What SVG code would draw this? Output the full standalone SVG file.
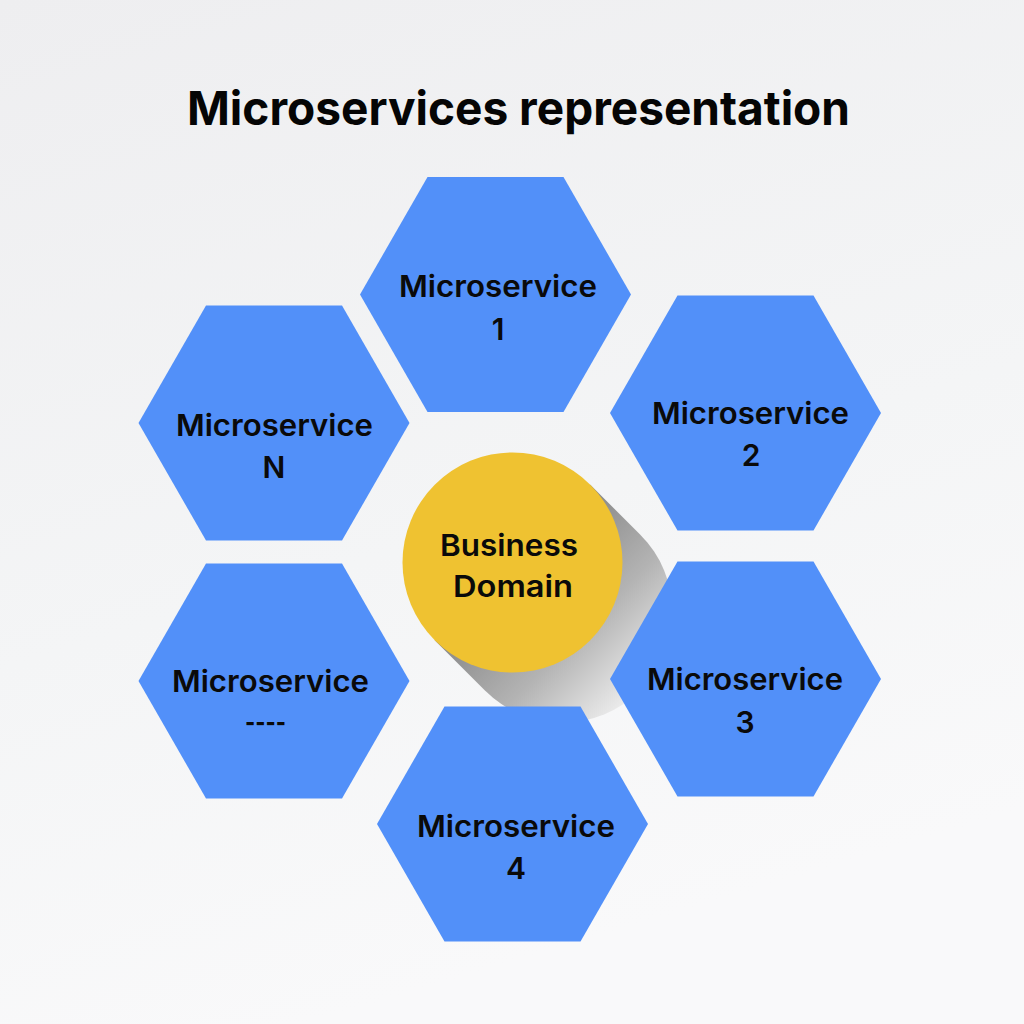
<svg xmlns="http://www.w3.org/2000/svg" xmlns:xlink="http://www.w3.org/1999/xlink" width="1024" height="1024" viewBox="0 0 1024 1024">
  <defs>
    <linearGradient id="bg" x1="0" y1="0" x2="0.3" y2="1">
      <stop offset="0" stop-color="#eeeef0"/>
      <stop offset="0.6" stop-color="#f4f5f6"/>
      <stop offset="1" stop-color="#f9f9fa"/>
    </linearGradient>
    <linearGradient id="shade" gradientUnits="userSpaceOnUse" x1="512.5" y1="562.5" x2="640" y2="690">
      <stop offset="0" stop-color="#858585"/>
      <stop offset="0.55" stop-color="#b4b4b4"/>
      <stop offset="1" stop-color="#ececec"/>
    </linearGradient>
    <polygon id="hex" points="-68,-117.5 68,-117.5 135.5,0 68,117.5 -68,117.5 -135.5,0"/>
    <style>
      .hex { fill: #5290f9; }
      .lbl { font-family: Inter, "Open Sans", "Liberation Sans", sans-serif; font-weight: 600; font-size: 30px; fill: #0a0a0a; text-anchor: middle; }
      .title { font-family: Inter, "Open Sans", "Liberation Sans", sans-serif; font-weight: 700; font-size: 47px; fill: #050505; text-anchor: middle; }
    </style>
  </defs>

  <rect x="0" y="0" width="1024" height="1024" fill="url(#bg)"/>

  <text class="title" x="518.5" y="125" textLength="663" lengthAdjust="spacingAndGlyphs">Microservices representation</text>

  <g id="connectors"></g>

  <g id="business-domain">
    <path d="M590.3,484.7 L640.3,534.7 A110,110 0 0 1 484.7,690.3 L434.7,640.3 Z" fill="url(#shade)"/>
    <circle cx="512.5" cy="562.5" r="110" fill="#efc231"/>
    <text class="lbl" x="509" y="556" textLength="138" lengthAdjust="spacingAndGlyphs">Business</text>
    <text class="lbl" x="513" y="597" textLength="120" lengthAdjust="spacingAndGlyphs">Domain</text>
  </g>

  <g id="microservice-1">
    <use xlink:href="#hex" class="hex" x="495.5" y="294.5"/>
    <text class="lbl" x="498" y="297" textLength="198" lengthAdjust="spacingAndGlyphs">Microservice</text>
    <text class="lbl" x="498" y="340">1</text>
  </g>

  <g id="microservice-2">
    <use xlink:href="#hex" class="hex" x="745.5" y="413"/>
    <text class="lbl" x="750.5" y="424" textLength="197" lengthAdjust="spacingAndGlyphs">Microservice</text>
    <text class="lbl" x="751" y="466">2</text>
  </g>

  <g id="microservice-n">
    <use xlink:href="#hex" class="hex" x="274" y="423"/>
    <text class="lbl" x="274.5" y="436" textLength="197" lengthAdjust="spacingAndGlyphs">Microservice</text>
    <text class="lbl" x="274" y="478">N</text>
  </g>

  <g id="microservice-dashes">
    <use xlink:href="#hex" class="hex" x="274" y="681"/>
    <text class="lbl" x="270.5" y="692" textLength="197" lengthAdjust="spacingAndGlyphs">Microservice</text>
    <text class="lbl" x="265.5" y="733" textLength="41" lengthAdjust="spacingAndGlyphs">----</text>
  </g>

  <g id="microservice-3">
    <use xlink:href="#hex" class="hex" x="745.5" y="679"/>
    <text class="lbl" x="745" y="690" textLength="196" lengthAdjust="spacingAndGlyphs">Microservice</text>
    <text class="lbl" x="745" y="733">3</text>
  </g>

  <g id="microservice-4">
    <use xlink:href="#hex" class="hex" x="512.5" y="824"/>
    <text class="lbl" x="516" y="837" textLength="198" lengthAdjust="spacingAndGlyphs">Microservice</text>
    <text class="lbl" x="516" y="879">4</text>
  </g>
</svg>
